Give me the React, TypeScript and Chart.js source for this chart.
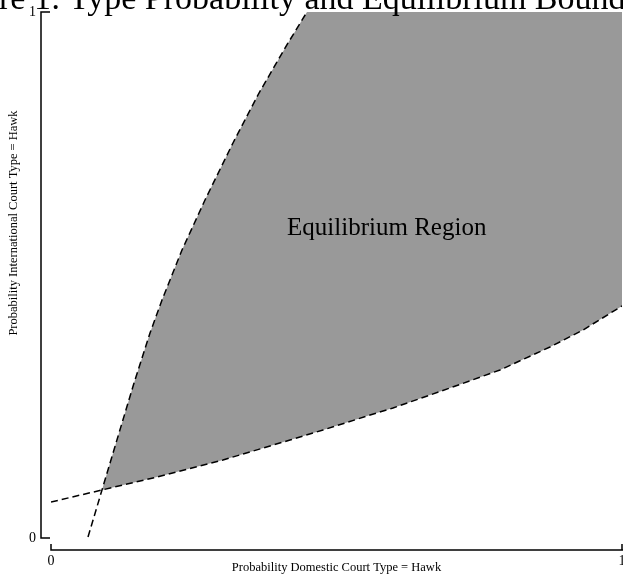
import React, { useEffect, useRef } from 'react';
import { Chart, registerables } from 'chart.js';

Chart.register(...registerables);

// Left (steep) bound
const boundAX = [0.0648, 0.0893, 0.1191, 0.1454, 0.1734, 0.1944, 0.2294, 0.2697, 0.3187, 0.3643, 0.4151, 0.4483];
const boundAY = [0.0019, 0.0913, 0.1996, 0.2947, 0.3897, 0.4525, 0.5475, 0.6426, 0.751, 0.846, 0.9411, 1.0];
// Lower bound
const boundBX = [0.0, 0.0893, 0.1856, 0.3012, 0.4186, 0.4764, 0.5534, 0.5989, 0.6988, 0.7863, 0.8739, 0.9317, 1.0];
const boundBY = [0.0684, 0.0913, 0.116, 0.1483, 0.1863, 0.2053, 0.2319, 0.2471, 0.2852, 0.3194, 0.3631, 0.3954, 0.4411];

const xTicks = [0, 1];
const yTicks = [0, 1];

const titleText = 'Figure 1: Type Probability and Equilibrium Bounds';
const xTitle = 'Probability Domestic Court Type = Hawk';
const yTitle = 'Probability International Court Type = Hawk';
const regionLabel = 'Equilibrium Region';
const regionAt = [0.588, 0.589];

const SERIF = '"Liberation Serif", "Times New Roman", serif';

export default function App() {
  const ref = useRef<HTMLCanvasElement>(null);

  useEffect(() => {
    document.body.style.margin = '0';
    const canvas = ref.current!;
    const toPts = (xs: number[], ys: number[]) => xs.map((x, i) => ({ x, y: ys[i] }));
    const A = toPts(boundAX, boundAY);
    const B = toPts(boundBX, boundBY);
    const region = [
      ...A.slice(1),
      { x: xTicks[xTicks.length - 1], y: yTicks[yTicks.length - 1] },
      ...B.slice(1).reverse(),
    ];

    const decor = {
      id: 'decor',
      afterDraw(chart: any) {
        const { ctx, chartArea: ca, scales } = chart;
        const xs = scales.x;
        const ys = scales.y;
        ctx.save();
        ctx.strokeStyle = '#000';
        ctx.lineWidth = 1.5;
        ctx.setLineDash([]);
        ctx.beginPath();
        const yx = ca.left - 10;
        ctx.moveTo(yx, ys.getPixelForValue(yTicks[yTicks.length - 1]));
        ctx.lineTo(yx, ys.getPixelForValue(yTicks[0]));
        yTicks.forEach((v) => {
          const py = ys.getPixelForValue(v);
          ctx.moveTo(yx - 0.75, py);
          ctx.lineTo(yx + 9, py);
        });
        const xy = ca.bottom + 12;
        ctx.moveTo(xs.getPixelForValue(xTicks[0]), xy);
        ctx.lineTo(chart.width, xy);
        xTicks.forEach((v) => {
          const px = xs.getPixelForValue(v);
          ctx.moveTo(px, xy + 0.75);
          ctx.lineTo(px, xy - 6);
        });
        ctx.stroke();

        ctx.fillStyle = '#000';
        // region label
        ctx.font = '25px ' + SERIF;
        ctx.textAlign = 'center';
        ctx.textBaseline = 'middle';
        ctx.fillText(regionLabel, xs.getPixelForValue(regionAt[0]), ys.getPixelForValue(regionAt[1]));

        // y axis title
        ctx.save();
        ctx.font = '12.5px ' + SERIF;
        ctx.translate(14, 223);
        ctx.rotate(-Math.PI / 2);
        ctx.textAlign = 'center';
        ctx.textBaseline = 'middle';
        ctx.fillText(yTitle, 0, 0);
        ctx.restore();

        // title (partially cut at top)
        ctx.font = '34px ' + SERIF;
        ctx.textAlign = 'left';
        ctx.textBaseline = 'alphabetic';
        const pre = ctx.measureText('Figu').width;
        ctx.fillText(titleText, -pre - 1, 9);
        ctx.restore();
      },
    };

    const chart = new Chart(canvas, {
      type: 'line',
      data: {
        datasets: [
          {
            data: A,
            borderColor: '#000',
            borderWidth: 1.5,
            borderDash: [7, 4],
            pointRadius: 0,
            fill: false,
            tension: 0,
          },
          {
            data: B,
            borderColor: '#000',
            borderWidth: 1.5,
            borderDash: [7, 4],
            pointRadius: 0,
            fill: false,
            tension: 0,
          },
          {
            data: region,
            borderWidth: 0,
            borderColor: 'rgba(0,0,0,0)',
            backgroundColor: '#999999',
            pointRadius: 0,
            fill: 'shape',
            tension: 0,
          },
        ],
      } as any,
      options: {
        animation: false,
        responsive: false,
        layout: { padding: { top: 12, right: 1, left: 0, bottom: 0 } },
        plugins: {
          legend: { display: false },
          tooltip: { enabled: false },
          title: { display: false },
        },
        scales: {
          x: {
            type: 'linear',
            min: 0,
            max: 1,
            grid: { display: false, drawTicks: false },
            border: { display: false },
            afterBuildTicks: (s: any) => {
              s.ticks = xTicks.map((v) => ({ value: v }));
            },
            afterFit: (s: any) => {
              s.height = 40;
              s.paddingLeft = 0;
              s.paddingRight = 0;
            },
            ticks: {
              padding: 15,
              color: '#000',
              maxRotation: 0,
              font: { family: SERIF, size: 14 },
              callback: (v: any) => String(v),
            },
            title: {
              display: true,
              text: xTitle,
              color: '#000',
              font: { family: SERIF, size: 12.5 },
              padding: { top: 0, bottom: 3 },
            },
          },
          y: {
            type: 'linear',
            min: 0,
            max: 1,
            grid: { display: false, drawTicks: false },
            border: { display: false },
            afterBuildTicks: (s: any) => {
              s.ticks = yTicks.map((v) => ({ value: v }));
            },
            afterFit: (s: any) => {
              s.width = 51;
              s.paddingTop = 0;
              s.paddingBottom = 0;
            },
            ticks: {
              padding: 15,
              color: '#000',
              font: { family: SERIF, size: 14 },
              callback: (v: any) => String(v),
            },
            title: { display: false },
          },
        },
      } as any,
      plugins: [decor],
    });
    return () => chart.destroy();
  }, []);

  return (
    <div style={{ position: 'absolute', left: 0, top: 0, width: 623, height: 578 }}>
      <canvas ref={ref} width={623} height={578} style={{ display: 'block', width: 623, height: 578 }} />
    </div>
  );
}
